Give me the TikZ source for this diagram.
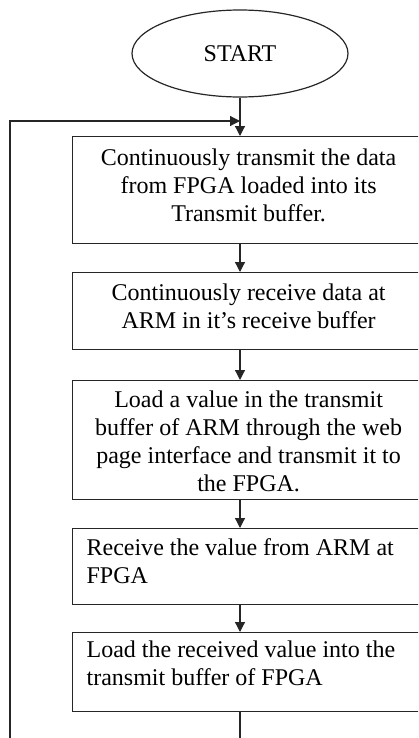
\documentclass[tikz,border=0pt]{standalone}
\usepackage{fontspec}
\setmainfont{Liberation Serif}
\usetikzlibrary{arrows.meta,shapes.geometric}
\begin{document}
\begin{tikzpicture}[x=1bp,y=-1bp,
  line/.style={draw=black!85, line width=1.2bp},
  arr/.style={line, -{Triangle[length=10bp,width=10bp]}},
  txt/.style={font=\fontsize{24bp}{28bp}\selectfont},
  stepbox/.style={line, rectangle, inner sep=0pt, anchor=north west, txt},
]
\useasboundingbox (0,0) rectangle (418,738);
\clip (0,0) rectangle (418,738);

% start terminal
\node[line, ellipse, minimum width=216bp, minimum height=87bp, inner sep=0pt, txt]
  (start) at (240,53.5) {START};

% process steps
\node[stepbox] (b1) at (72,136) {\parbox[c][107bp][t]{352bp}{\centering
  \rule{0pt}{29bp}Continuously transmit the data\\
  from FPGA loaded into its\\
  Transmit buffer.}};
\node[stepbox] (b2) at (72,272) {\parbox[c][77bp][t]{352bp}{\centering
  \rule{0pt}{28bp}Continuously receive data at\\
  ARM in it’s receive buffer}};
\node[stepbox] (b3) at (72,380) {\parbox[c][119bp][t]{352bp}{\centering
  \rule{0pt}{27bp}Load a value in the transmit\\
  buffer of ARM through the web\\
  page interface and transmit it to\\
  the FPGA.}};
\node[stepbox] (b4) at (72,528) {\parbox[c][76bp][t]{352bp}{\raggedright\leftskip=14bp
  \rule{0pt}{27bp}Receive the value from ARM at\\
  FPGA}};
\node[stepbox] (b5) at (72,632) {\parbox[c][79bp][t]{352bp}{\raggedright\leftskip=14bp
  \rule{0pt}{25bp}Load the received value into the\\
  transmit buffer of FPGA}};

% flow arrows along the main axis
\draw[arr] (start.south) -- (start.south |- b1.north);
\draw[arr] (b1.south -| start.south) -- (b2.north -| start.south);
\draw[arr] (b2.south -| start.south) -- (b3.north -| start.south);
\draw[arr] (b3.south -| start.south) -- (b4.north -| start.south);
\draw[arr] (b4.south -| start.south) -- (b5.north -| start.south);

% loop back to the first step
\coordinate (tail) at (240,745);
\coordinate (loopfoot) at (10,745);
\coordinate (join) at (240,121);
\draw[line] (b5.south -| start.south) -- (tail);
\draw[arr] (loopfoot) |- (join);
\end{tikzpicture}
\end{document}
